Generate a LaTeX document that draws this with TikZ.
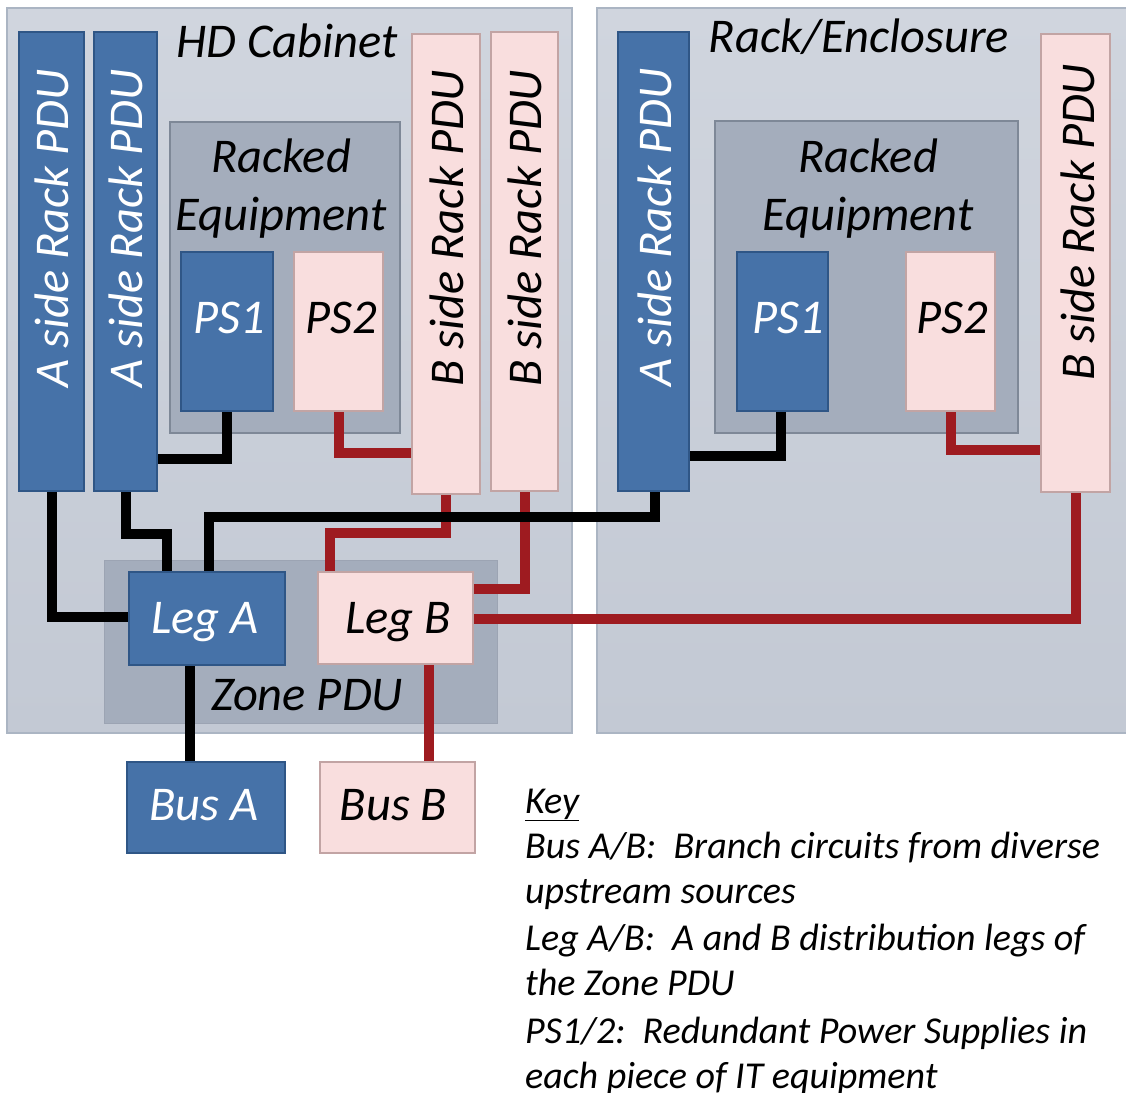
\documentclass[tikz,border=0pt]{standalone}
\usepackage{fontspec}
\setmainfont{Carlito}
\definecolor{cabtop}{HTML}{D0D5DE}
\definecolor{cabbot}{HTML}{C3C9D4}
\definecolor{cabline}{HTML}{ABB5C3}
\definecolor{innerfill}{HTML}{A4ADBC}
\definecolor{innerline}{HTML}{7E8897}
\definecolor{bluefill}{HTML}{4672A8}
\definecolor{blueline}{HTML}{2F5686}
\definecolor{pinkfill}{HTML}{F9DEDE}
\definecolor{pinkline}{HTML}{C2A4A4}
\definecolor{redwire}{HTML}{9E1B20}
\begin{document}
\begin{tikzpicture}[x=1pt,y=-1pt,
  cabinet/.style={draw=cabline,line width=1.5pt,top color=cabtop,bottom color=cabbot,inner sep=0pt},
  inner/.style={draw=innerline,line width=2pt,fill=innerfill,inner sep=0pt},
  zonebox/.style={draw=innerfill!95!black,line width=1pt,fill=innerfill,inner sep=0pt},
  bluebox/.style={draw=blueline,line width=2pt,fill=bluefill,inner sep=0pt},
  pinkbox/.style={draw=pinkline,line width=2pt,fill=pinkfill,inner sep=0pt},
  lbl/.style={font=\fontsize{48.5}{58}\selectfont\itshape,inner sep=0pt,anchor=base},
  wlbl/.style={lbl,text=white},
  vlbl/.style={font=\fontsize{48.5}{58}\selectfont\itshape,inner sep=0pt,rotate=90,anchor=west},
  keytxt/.style={font=\fontsize{38}{46}\selectfont\itshape,inner sep=0pt,anchor=base west},
  blkwire/.style={draw=black,line width=10pt,line join=miter},
  redw/.style={draw=redwire,line width=10pt,line join=miter}]
\useasboundingbox (0,0) rectangle (1126,1092);
% cabinets
\node[cabinet,minimum width=565pt,minimum height=725pt] (lcab) at (289.5,370.5) {};
\node[cabinet,minimum width=540pt,minimum height=725pt] (rcab) at (867,370.5) {};
\node[lbl] (lcabt) at (287,57) {HD Cabinet};
\node[lbl] (rcabt) at (859,52) {Rack/Enclosure};
% inner boxes
\node[inner,minimum width=230pt,minimum height=311pt] (lrack) at (285,277.5) {};
\node[inner,minimum width=303pt,minimum height=312pt] (rrack) at (866.5,277) {};
\node[zonebox,minimum width=393pt,minimum height=163pt] (zone) at (300.5,641.5) {};
\node[lbl] (lrackt1) at (281,172) {Racked};
\node[lbl] (lrackt2) at (281,230) {Equipment};
\node[lbl] (rrackt1) at (868,172) {Racked};
\node[lbl] (rrackt2) at (868,230) {Equipment};
\node[lbl] (zonet) at (307,710) {Zone PDU};
% PDUs and supplies
\node[bluebox,minimum width=65pt,minimum height=459pt] (lA1) at (51.5,261.5) {};
\node[bluebox,minimum width=63pt,minimum height=459pt] (lA2) at (125.5,261.5) {};
\node[pinkbox,minimum width=68pt,minimum height=460pt] (lB1) at (446,264) {};
\node[pinkbox,minimum width=67pt,minimum height=459pt] (lB2) at (524.5,261.5) {};
\node[bluebox,minimum width=92pt,minimum height=159pt] (lps1) at (227,331.5) {};
\node[pinkbox,minimum width=89pt,minimum height=159pt] (lps2) at (338.5,331.5) {};
\node[bluebox,minimum width=71pt,minimum height=459pt] (rA) at (653.5,261.5) {};
\node[pinkbox,minimum width=69pt,minimum height=458pt] (rB) at (1075.5,263) {};
\node[bluebox,minimum width=91pt,minimum height=159pt] (rps1) at (782.5,331.5) {};
\node[pinkbox,minimum width=89pt,minimum height=159pt] (rps2) at (950.5,331.5) {};
% wires
\draw[redw] (lB1.south) |- (330,533) -- (330,573);
\draw[redw] (lB2.south) |- (473,589);
\draw[blkwire] (lps1.south) |- (lA2.east |- 0,459);
\draw[redw] (lps2.south) |- (lB1.west |- 0,453);
\draw[blkwire] (lA1.south) |- (129,617);
\draw[blkwire] (lA2.south) |- (167,534) -- (167,572);
\draw[blkwire] (209,572) |- (655,517) -- (rA.south -| 655,0);
\draw[redw] (473,619) -| (rB.south);
\draw[blkwire] (190,665) -- (190,762);
\draw[redw] (429,664) -- (429,762);
\draw[blkwire] (rps1.south -| 781,0) |- (rA.east |- 0,456);
\draw[redw] (rps2.south) |- (rB.west |- 0,450);
% legs and buses
\node[bluebox,minimum width=156pt,minimum height=93pt] (legA) at (207,618.5) {};
\node[pinkbox,minimum width=155pt,minimum height=92pt] (legB) at (395.5,618) {};
\node[bluebox,minimum width=158pt,minimum height=91pt] (busA) at (206,807.5) {};
\node[pinkbox,minimum width=155pt,minimum height=91pt] (busB) at (397.5,807.5) {};
\node[wlbl] (legAt) at (205,633) {Leg A};
\node[lbl] (legBt) at (398,633) {Leg B};
\node[wlbl] (busAt) at (204,820) {Bus A};
\node[lbl] (busBt) at (393.5,820) {Bus B};
\node[wlbl] (lps1t) at (229.5,333) {PS1};
\node[lbl] (lps2t) at (341,333) {PS2};
\node[wlbl] (rps1t) at (788,333) {PS1};
\node[lbl] (rps2t) at (952,333) {PS2};
% rotated labels
\node[vlbl,text=white] (lA1t) at (51.5,388) {A side Rack PDU};
\node[vlbl,text=white] (lA2t) at (125.5,388) {A side Rack PDU};
\node[vlbl] (lB1t) at (447,387) {B side Rack PDU};
\node[vlbl] (lB2t) at (525,387) {B side Rack PDU};
\node[vlbl,text=white] (rAt) at (654.5,387) {A side Rack PDU};
\node[vlbl] (rBt) at (1078,381) {B side Rack PDU};
% key
\node[keytxt] (k0) at (525,813) {\underline{Key}};
\node[keytxt] (k1) at (525,858) {Bus A/B:\ \ Branch circuits from diverse};
\node[keytxt] (k2) at (525,903) {upstream sources};
\node[keytxt] (k3) at (525,950) {Leg A/B:\ \ A and B distribution legs of};
\node[keytxt] (k4) at (525,995) {the Zone PDU};
\node[keytxt] (k5) at (525,1043) {PS1/2:\ \ Redundant Power Supplies in};
\node[keytxt] (k6) at (525,1088) {each piece of IT equipment};
\end{tikzpicture}
\end{document}
